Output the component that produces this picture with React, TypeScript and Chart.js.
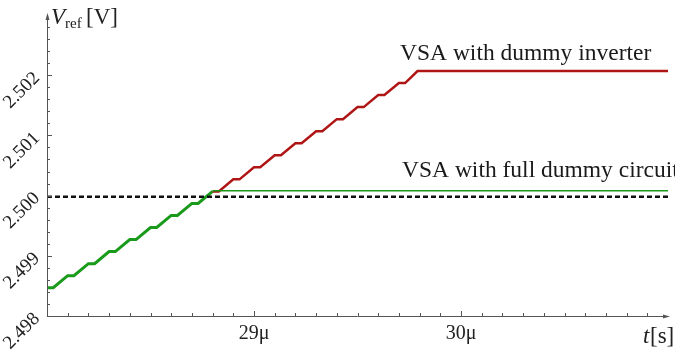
import React, { useEffect, useRef } from "react";
import { Chart, registerables } from "chart.js";

Chart.register(...registerables);

// Time in microseconds, voltage in volts
const greenRampT = [28.0, 28.03, 28.1, 28.13, 28.2, 28.23, 28.3, 28.33, 28.4, 28.43, 28.5, 28.53, 28.6, 28.63, 28.7, 28.73, 28.8];
const greenRampV = [2.49847, 2.49847, 2.49867, 2.49867, 2.49887, 2.49887, 2.49907, 2.49907, 2.49927, 2.49927, 2.49947, 2.49947, 2.49967, 2.49967, 2.49987, 2.49987, 2.50007];
const greenFlatT = [28.8, 31.0];
const greenFlatV = [2.50008, 2.50008];
const redT = [28.8, 28.83, 28.9, 28.93, 29.0, 29.03, 29.1, 29.13, 29.2, 29.23, 29.3, 29.33, 29.4, 29.43, 29.5, 29.53, 29.6, 29.63, 29.7, 29.73, 29.79, 31.0];
const redV = [2.50007, 2.50007, 2.50027, 2.50027, 2.50047, 2.50047, 2.50067, 2.50067, 2.50087, 2.50087, 2.50107, 2.50107, 2.50127, 2.50127, 2.50147, 2.50147, 2.50167, 2.50167, 2.50187, 2.50187, 2.50207, 2.50207];
const refT = [28.0, 31.0];
const refV = [2.49998, 2.49998];

const xTickLabels = [29, 30];
const yTickLabels = [2.498, 2.499, 2.5, 2.501, 2.502];
const seriesLabels = ["VSA with dummy inverter", "VSA with full dummy circuit"];

const pts = (t: number[], v: number[]) => t.map((x, i) => ({ x, y: v[i] }));

const SERIF = "'Liberation Serif', 'DejaVu Serif', serif";

const axesPlugin = {
  id: "mathAxes",
  afterDraw(chart: any) {
    const ctx = chart.ctx;
    const xs = chart.scales.x;
    const ys = chart.scales.y;
    const x0 = xs.getPixelForValue(28.0);
    const y0 = ys.getPixelForValue(2.498);
    const xEnd = xs.getPixelForValue(31.0);
    const yEnd = ys.getPixelForValue(2.503);
    ctx.save();
    ctx.strokeStyle = "#555";
    ctx.fillStyle = "#555";
    ctx.lineWidth = 1;
    // axes
    ctx.beginPath();
    ctx.moveTo(x0, y0 + 0.5);
    ctx.lineTo(xEnd, y0 + 0.5);
    ctx.moveTo(x0 + 0.5, y0);
    ctx.lineTo(x0 + 0.5, yEnd);
    ctx.stroke();
    // arrows
    ctx.beginPath();
    ctx.moveTo(xEnd + 2, y0 + 0.5);
    ctx.lineTo(xEnd - 5, y0 - 1.5);
    ctx.lineTo(xEnd - 5, y0 + 2.5);
    ctx.closePath();
    ctx.fill();
    ctx.beginPath();
    ctx.moveTo(x0 + 0.5, yEnd - 2);
    ctx.lineTo(x0 - 1.5, yEnd + 5);
    ctx.lineTo(x0 + 2.5, yEnd + 5);
    ctx.closePath();
    ctx.fill();
    // x ticks (inward)
    ctx.beginPath();
    for (let i = 1; i < 30; i++) {
      const v = 28 + i * 0.1;
      const px = Math.round(xs.getPixelForValue(v)) + 0.5;
      const major = i % 10 === 0;
      ctx.moveTo(px, y0);
      ctx.lineTo(px, y0 - (major ? 5 : 3));
    }
    // y ticks (inward)
    for (let i = 1; i < 25; i++) {
      const v = 2.498 + i * 0.0002;
      const py = Math.round(ys.getPixelForValue(v)) + 0.5;
      const major = i % 5 === 0;
      ctx.moveTo(x0, py);
      ctx.lineTo(x0 + (major ? 5 : 3), py);
    }
    ctx.stroke();
    // axis titles
    ctx.fillStyle = "#222";
    ctx.textBaseline = "alphabetic";
    ctx.textAlign = "left";
    ctx.font = `italic 23px ${SERIF}`;
    ctx.fillText("V", 51, 24);
    ctx.font = `15px ${SERIF}`;
    ctx.fillText("ref", 65, 28);
    ctx.font = `23px ${SERIF}`;
    ctx.fillText("[V]", 86, 24);
    ctx.font = `italic 23px ${SERIF}`;
    ctx.fillText("t", 643, 343);
    ctx.font = `23px ${SERIF}`;
    ctx.fillText("[s]", 650, 343);
    // series annotations
    ctx.font = `23.5px ${SERIF}`;
    ctx.fillStyle = "#1a1a1a";
    ctx.fillText(seriesLabels[0], 400, 60);
    ctx.fillText(seriesLabels[1], 402, 177);
    ctx.restore();
  },
};

export default function App() {
  const ref = useRef<HTMLCanvasElement>(null);
  useEffect(() => {
    if (!ref.current) return;
    const chart = new Chart(ref.current, {
      type: "scatter",
      data: {
        datasets: [
          {
            label: "ref",
            data: pts(refT, refV),
            showLine: true,
            borderColor: "#111",
            borderWidth: 2.5,
            borderDash: [5, 3],
            pointRadius: 0,
          },
          {
            label: seriesLabels[1] + " flat",
            data: pts(greenFlatT, greenFlatV),
            showLine: true,
            borderColor: "#1a9a1a",
            borderWidth: 1.5,
            pointRadius: 0,
          },
          {
            label: seriesLabels[0],
            data: pts(redT, redV),
            showLine: true,
            borderColor: "#b01515",
            borderWidth: 2.5,
            pointRadius: 0,
          },
          {
            label: seriesLabels[1],
            data: pts(greenRampT, greenRampV),
            showLine: true,
            borderColor: "#1a9a1a",
            borderWidth: 3,
            pointRadius: 0,
          },
        ],
      },
      options: {
        animation: false,
        responsive: false,
        layout: { padding: { top: 15, right: 7, left: 0, bottom: 0 } },
        plugins: { legend: { display: false }, tooltip: { enabled: false } },
        scales: {
          x: {
            type: "linear",
            min: 28,
            max: 31,
            border: { display: false },
            grid: { display: false, drawTicks: false },
            afterFit: (s: any) => {
              s.height = 38;
            },
            afterBuildTicks: (s: any) => {
              s.ticks = xTickLabels.map((v) => ({ value: v }));
            },
            ticks: {
              padding: 6,
              maxRotation: 0,
              autoSkip: false,
              color: "#222",
              font: { family: SERIF, size: 20 },
              callback: (v: any) => `${Math.round(Number(v))}μ`,
            },
          },
          y: {
            type: "linear",
            min: 2.498,
            max: 2.503,
            border: { display: false },
            grid: { display: false },
            afterFit: (s: any) => {
              s.width = 47;
            },
            afterBuildTicks: (s: any) => {
              s.ticks = yTickLabels.map((v) => ({ value: v }));
            },
            ticks: {
              padding: 2,
              minRotation: 45,
              maxRotation: 45,
              autoSkip: false,
              color: "#222",
              font: { family: SERIF, size: 19 },
              callback: (v: any) => Number(v).toFixed(3),
            },
          },
        },
      },
      plugins: [axesPlugin],
    } as any);
    return () => chart.destroy();
  }, []);
  return (
    <div style={{ position: "absolute", left: 0, top: 0, width: 675, height: 354, background: "#fff" }}>
      <canvas ref={ref} width={675} height={354} />
    </div>
  );
}
